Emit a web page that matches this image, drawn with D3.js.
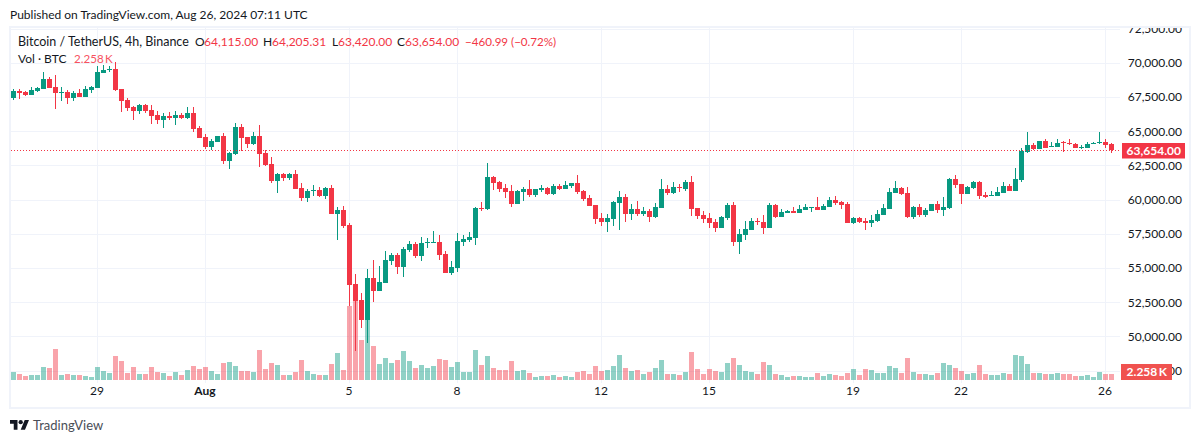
<!DOCTYPE html>
<html>
<head>
<meta charset="utf-8">
<script src="https://cdn.jsdelivr.net/npm/d3@7"></script>
<style>
    html, body { margin: 0; padding: 0; background: #fff; }
    svg { display: block; }
    text { font-family: Lato, sans-serif; font-size: 12px; fill: #131722; }
</style>
</head>
<body>
<svg id="chart" width="1200" height="443"></svg>
<script>
// 4h candles, Jul 26 to Aug 26 2024
const open = [
    67485,67975,67902,67683,67975,68121,68852,68267,67880,67902,67463,67829,67536,68048,68194,69291,69561,69583,68121,67317,66805,66513,66951,66586,66220,65855,66147,66001,66220,66001,
    66367,65270,64612,63881,64247,64685,62858,63370,65343,64612,64100,64685,63443,62639,61396,61908,61615,61908,60884,60153,60687,60738,60300,60884,58983,59276,58180,53867,52697,51235,
    54305,53355,53940,55548,55986,55110,56352,56791,55914,56886,56886,56937,56060,54671,55037,56937,57083,57229,59422,59349,61688,61323,60884,60665,59714,60592,60811,60373,60738,60884,
    60446,61031,60811,61031,61250,60665,60153,59641,58691,58399,58618,59788,60227,58983,59349,58983,59203,58764,59422,60811,60519,60957,60811,61323,59422,58910,58691,58399,57960,58691,
    59641,56937,57449,57814,58450,58399,57960,59641,58764,59057,59203,59057,59276,59444,59495,59276,59495,60007,59861,59714,58326,58691,58472,58326,58472,58910,59349,60519,60884,60519,
    58764,59495,58910,59203,59714,59276,59422,61542,61177,60446,60884,61323,60373,60321,60300,60519,61031,60665,61469,63516,64027,63735,64320,63881,63881,64247,64174,64100,63808,63808,64100,64174,64247,64115
];
const high = [
    68121,68121,67975,68245,68267,69364,68998,69144,68267,68048,67975,68121,68340,68340,69802,69875,69802,70095,68121,67463,66878,67025,67025,66951,66513,66367,66440,66513,66367,66805,
    66805,65416,64832,64466,64685,64905,63516,65636,65563,64612,64978,65490,63662,63150,61981,61981,61981,62200,61250,60811,61104,60957,60957,61104,59495,59568,58326,54597,53208,54963,
    55621,55183,56279,56133,56133,56571,57010,56937,57302,57229,57741,57448,56279,55548,57595,57448,57668,59495,59861,62712,61761,61396,61177,61104,60738,60957,61469,60811,61104,60957,
    61177,61177,61396,61250,61835,60738,60373,59641,59057,58983,59934,60665,60446,59714,59934,59495,59349,59788,61542,61104,61323,61177,61469,61761,59422,59203,59057,58618,58837,59788,
    59861,57887,58472,58691,58691,58910,59788,59714,59349,59276,59495,59641,59714,59495,60227,59714,60227,60300,59934,59861,58764,58764,58691,58910,59276,59714,60884,61396,60957,60957,
    59568,59714,59422,59714,59934,60227,61615,61835,61177,61031,61396,61396,60592,60665,60957,61323,61177,62346,63808,64978,64173,64320,64466,64247,64466,64320,64466,64174,64027,64247,64247,64978,64466,64205.31
];
const low = [
    67339,67390,67609,67683,67902,68121,68194,66659,67244,67025,67244,67536,67536,67829,68194,69291,69364,67975,66440,66513,65855,66294,66367,65563,65563,65270,65855,65490,65928,65928,
    64978,64539,63735,63662,64247,62639,62273,63297,63589,63808,64027,62419,62492,61250,60519,61396,61469,60811,59934,59861,60300,60227,60080,59003,57083,57960,52258,48969,50650,49554,
    52551,53355,53940,55256,54597,54378,56206,55767,55548,56498,56864,55621,54671,54524,54744,56645,56937,56718,59203,59276,60738,60592,60153,59495,59714,59934,60227,60227,60592,60373,
    60373,60738,60811,60884,60446,59934,59568,58253,58107,57668,58107,57814,58399,58545,58838,58838,58399,58691,59422,60373,60446,60592,60665,58838,58618,58326,57960,57668,57960,58545,
    56645,56060,57083,57814,58180,57522,57960,58691,58764,59057,59057,59057,59276,59130,59276,59276,59495,59641,59349,58326,58253,58326,57814,58034,58399,58910,59349,60519,60373,58691,
    58618,58764,58764,59203,59057,58838,59349,60884,59714,60446,60811,60080,60153,60300,60300,60519,60665,60665,61323,63443,63662,63735,63808,63881,63881,63516,64027,63808,63735,63808,64100,64100,63808,63420
];
const close = [
    67975,67829,67683,68048,68194,68852,68194,67829,67902,67463,67829,67536,68121,68267,69364,69510,69583,68048,67244,66732,66513,66951,66513,66147,65855,66147,66001,66220,66001,66367,
    65197,64539,63881,64320,64685,62858,63443,65343,64539,64100,64685,63370,62565,61396,61908,61615,61908,60811,60153,60665,60738,60300,60884,59003,59276,58107,53794,52624,51235,54305,
    53355,54013,55621,55986,55110,56425,56791,55914,56864,56937,56937,55986,54671,55110,57010,57156,57302,59422,59349,61688,61250,60811,60592,59714,60665,60811,60373,60811,60884,60446,
    61031,60811,61104,61250,60592,60080,59568,58618,58399,58691,59861,60227,58983,59349,58983,59203,58764,59495,60811,60519,60957,60906,61323,59349,58838,58618,58326,57960,58764,59641,
    56937,57522,57887,58472,58399,57960,59641,58764,59130,59203,59057,59349,59495,59495,59276,59568,60007,59788,59641,58326,58691,58399,58326,58545,58983,59422,60592,60884,60446,58764,
    59495,58910,59276,59714,59276,59495,61542,61104,60446,60957,61323,60300,60227,60373,60592,61031,60665,61542,63589,64027,63735,64320,63808,63954,64174,64174,64100,63808,63881,64100,64174,64247,64027,63654
];
// volume in thousands of BTC
const volume = [
    3.01,2.26,1.51,1.88,1.88,4.89,4.52,11.67,1.88,2.26,1.88,1.88,1.51,1.13,4.89,3.39,2.63,9.03,7.15,2.63,4.89,2.26,2.26,4.89,3.01,2.63,1.51,3.01,1.88,3.76,
    5.27,4.14,4.89,3.39,2.26,6.40,6.77,5.27,3.39,3.39,3.01,11.29,4.14,6.40,5.64,1.88,1.88,3.01,7.53,3.39,2.26,1.88,1.88,6.02,10.16,3.76,27.85,29.73,15.05,22.58,
    12.79,6.02,8.28,6.40,7.53,10.91,7.15,4.52,5.64,4.52,5.27,7.90,7.53,4.89,6.77,3.01,3.01,11.29,5.64,9.03,4.52,3.76,3.76,7.15,3.39,3.76,2.63,1.13,1.51,1.51,
    1.88,1.13,1.51,1.13,3.01,3.39,2.26,5.27,3.39,3.76,5.27,9.41,4.52,3.39,3.76,2.26,3.01,4.52,7.53,2.26,2.26,1.88,3.01,10.54,4.14,2.26,4.14,3.39,3.01,6.40,
    8.28,5.64,3.39,3.01,2.26,6.77,5.64,2.26,1.88,1.13,1.51,1.51,1.13,1.13,2.63,1.51,2.26,1.88,1.51,2.63,4.14,1.88,4.14,3.76,2.63,2.63,5.27,4.52,2.63,8.28,
    3.01,2.26,2.26,1.88,2.63,6.40,5.64,4.52,3.39,2.26,2.63,5.64,2.26,1.88,1.88,2.63,2.26,9.41,9.03,6.02,2.63,2.63,2.26,2.26,2.63,2.26,2.26,1.51,1.51,1.88,1.13,3.01,2.26,2.26
];
const timeTickIndex = [14, 32, 56, 74, 98, 116, 140, 158, 182];
const timeTickLabels = ["29", "Aug", "5", "8", "12", "15", "19", "22", "26"];
const priceTicks = [72500, 70000, 67500, 65000, 62500, 60000, 57500, 55000, 52500, 50000, 47500];

const upColor = "#089981", downColor = "#F23645", gridColor = "#F0F3FA";
const axisFont = "Lato, sans-serif";
const svg = d3.select("#chart");

const x = d3.scaleLinear().domain([0, close.length - 1]).range([13.5, 1111.5]);
const y = d3.scaleLinear().domain([70000, 50000]).range([63.3, 336.9]);
const yVol = d3.scaleLinear().domain([0, d3.max(volume)]).range([380, 301]);
const colorOf = i => close[i] >= open[i] ? upColor : downColor;
const idx = d3.range(close.length);

// frame
svg.append("rect").attr("x", 10).attr("y", 27).attr("width", 1180).attr("height", 381)
    .attr("fill", "none").attr("stroke", gridColor).attr("stroke-width", 2);
svg.append("clipPath").attr("id", "inside").append("rect")
    .attr("x", 11).attr("y", 28).attr("width", 1178).attr("height", 379);

const inner = svg.append("g").attr("clip-path", "url(#inside)");

// grid
const grid = inner.append("g").attr("shape-rendering", "crispEdges").attr("stroke", gridColor);
grid.selectAll(".h").data(priceTicks).enter().append("line")
    .attr("x1", 11).attr("x2", 1120)
    .attr("y1", d => Math.floor(y(d)) + 0.5).attr("y2", d => Math.floor(y(d)) + 0.5);
grid.selectAll(".v").data(timeTickIndex).enter().append("line")
    .attr("x1", d => Math.floor(x(d)) + 0.5).attr("x2", d => Math.floor(x(d)) + 0.5)
    .attr("y1", 28).attr("y2", 383);

// volume
inner.append("g").attr("shape-rendering", "crispEdges").selectAll("rect").data(idx).enter().append("rect")
    .attr("x", i => Math.floor(x(i)) - 2).attr("width", 5)
    .attr("y", i => Math.round(yVol(volume[i])))
    .attr("height", i => 380 - Math.round(yVol(volume[i])))
    .attr("fill", colorOf).attr("fill-opacity", 0.45);

// candles
const candles = inner.append("g").attr("shape-rendering", "crispEdges");
candles.selectAll(".wick").data(idx).enter().append("rect")
    .attr("x", i => Math.floor(x(i))).attr("width", 1)
    .attr("y", i => Math.round(y(high[i])))
    .attr("height", i => Math.max(1, Math.round(y(low[i])) - Math.round(y(high[i]))))
    .attr("fill", colorOf);
candles.selectAll(".body").data(idx).enter().append("rect")
    .attr("x", i => Math.floor(x(i)) - 2).attr("width", 5)
    .attr("y", i => Math.round(y(Math.max(open[i], close[i]))))
    .attr("height", i => Math.max(1, Math.round(y(Math.min(open[i], close[i]))) - Math.round(y(Math.max(open[i], close[i])))))
    .attr("fill", colorOf);

// last price line
const last = close[close.length - 1];
inner.append("line")
    .attr("x1", 11).attr("x2", 1121)
    .attr("y1", Math.floor(y(last)) + 0.5).attr("y2", Math.floor(y(last)) + 0.5)
    .attr("stroke", downColor).attr("stroke-dasharray", "1 2");

// price axis
const yAxis = inner.append("g").attr("transform", "translate(1182,0)")
    .call(d3.axisLeft(y).tickValues(priceTicks).tickFormat(d3.format(",.2f")).tickSize(0).tickPadding(0));
yAxis.select(".domain").remove();
yAxis.selectAll("text").style("font-size", "12px").style("font-family", axisFont).attr("fill", "#131722").attr("dy", "0.28em");

// time axis, labels sit half a pixel left of the tick
const xAxis = inner.append("g").attr("transform", "translate(-1,388)")
    .call(d3.axisBottom(x).tickValues(timeTickIndex).tickFormat((d, i) => timeTickLabels[i]).tickSize(0).tickPadding(0));
xAxis.select(".domain").remove();
xAxis.selectAll("text").style("font-size", "12px").style("font-family", axisFont).attr("fill", "#131722").attr("dy", "0.62em");
xAxis.selectAll("text").filter(d => d === 32).style("font-weight", 700);

// price tags
function tag(tx, tw, ty, th, color, label, anchorX) {
    svg.append("rect").attr("x", tx).attr("y", ty).attr("width", tw).attr("height", th).attr("fill", color);
    svg.append("text").attr("x", anchorX).attr("y", ty + th / 2).attr("dy", "0.36em")
        .attr("text-anchor", "end").style("fill", "#fff").style("font-weight", 700).text(label);
}
tag(1122, 63, 143, 15.5, downColor, d3.format(",.2f")(last), 1181);
tag(1121, 51, 364, 16, "#F0524F", "2.258\u2009K", 1167);

// header
svg.append("text").attr("x", 10).attr("y", 19).text("Published on TradingView.com, Aug 26, 2024 07:11 UTC");

// legend
const legendRed = "#F23645";
const legendItems = [
    ["Bitcoin / TetherUS, 4h, Binance", 18, "#131722", 12.5],
    ["O", 195, "#131722", 12], ["64,115.00", 204, legendRed, 12],
    ["H", 263, "#131722", 12], ["64,205.31", 272, legendRed, 12],
    ["L", 332, "#131722", 12], ["63,420.00", 338, legendRed, 12],
    ["C", 397, "#131722", 12], ["63,654.00", 405, legendRed, 12],
    ["\u2212460.99 (\u22120.72%)", 465, legendRed, 11.6]
];
svg.selectAll(".legend").data(legendItems).enter().append("text")
    .attr("x", d => d[1]).attr("y", 46)
    .style("fill", d => d[2]).style("font-size", d => d[3] + "px").text(d => d[0]);
svg.append("text").attr("x", 18).attr("y", 63).text("Vol \u00b7 BTC");
svg.append("text").attr("x", 74).attr("y", 63).style("fill", "#F7525F").style("font-size", "11.6px").text("2.258\u2009K");

// logo
const logo = svg.append("g").attr("transform", "translate(10,417.9) scale(0.535)").attr("fill", "#131722");
logo.append("path").attr("d", "M14 22H7V11H0V4h14v18zM28 22h-8l7.5-18h8L28 22z");
logo.append("circle").attr("cx", 20).attr("cy", 8).attr("r", 4);
svg.append("text").attr("x", 33).attr("y", 430).style("font-size", "13px").style("fill", "#4a4e57").text("TradingView");
</script>
</body>
</html>
